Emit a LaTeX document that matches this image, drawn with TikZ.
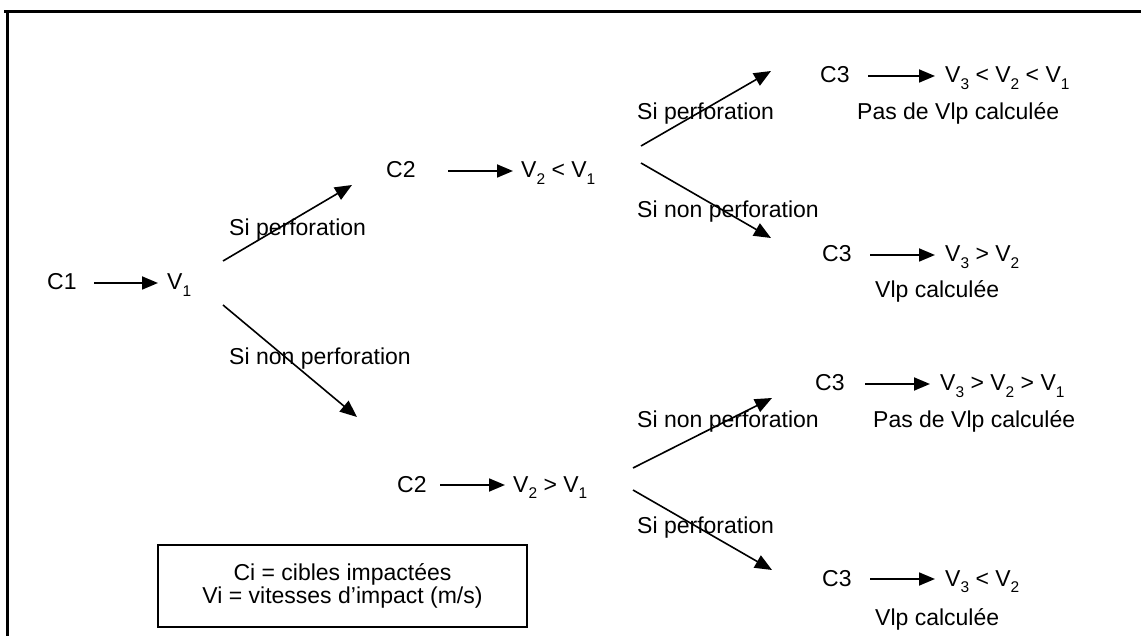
\documentclass[tikz,border=0pt]{standalone}
\usepackage{fontspec}
\setmainfont{Liberation Sans}
\usetikzlibrary{arrows.meta}
\newcommand{\sbs}[1]{\raisebox{-0.3em}{\fontsize{15.5}{15.5}\selectfont #1}}
\begin{document}
\begin{tikzpicture}[x=1pt,y=-1pt,
  lbl/.style={inner sep=0pt,anchor=base west,font=\fontsize{23}{26}\selectfont},
  harrow/.style={line width=1.8pt,-{Triangle[length=16pt,width=13pt]}},
  darrow/.style={line width=1.6pt,-{Triangle[length=17pt,width=14pt]}}]
\useasboundingbox (0,0) rectangle (1141,636);
% frame
\draw[line width=3pt] (4,12) -- (1141,12);
\draw[line width=3pt] (7,12) -- (7,636);

% level 0
\node[lbl] (c1) at (47,290) {C1};
\node[lbl] (v1) at (167,290) {V\sbs{1}};
\coordinate (a1s) at (94,283); \coordinate (a1e) at (158,283);
\draw[harrow] (a1s) -- (a1e);

% fork 1
\coordinate (f1a) at (223,261); \coordinate (f1b) at (352,185);
\coordinate (f1c) at (223,305); \coordinate (f1d) at (357,417);
\draw[darrow] (f1a) -- (f1b);
\draw[darrow] (f1c) -- (f1d);
\node[lbl] (sp1) at (229,236) {Si perforation};
\node[lbl] (snp1) at (229,365) {Si non perforation};

% upper C2
\node[lbl] (c2a) at (386,178) {C2};
\coordinate (a2s) at (448,171); \coordinate (a2e) at (513,171);
\draw[harrow] (a2s) -- (a2e);
\node[lbl] (v2a) at (521,178) {V\sbs{2} < V\sbs{1}};

% fork 2
\coordinate (f2a) at (641,146); \coordinate (f2b) at (771,71);
\coordinate (f2c) at (641,163); \coordinate (f2d) at (771,238);
\draw[darrow] (f2a) -- (f2b);
\draw[darrow] (f2c) -- (f2d);
\node[lbl] (sp2) at (637,120) {Si perforation};
\node[lbl] (snp2) at (637,218) {Si non perforation};

% C3 group 1
\node[lbl] (c3a) at (820,83) {C3};
\coordinate (a3s) at (868,76); \coordinate (a3e) at (935,76);
\draw[harrow] (a3s) -- (a3e);
\node[lbl] (v3a) at (945,83) {V\sbs{3} < V\sbs{2} < V\sbs{1}};
\node[lbl] (pa) at (857,120) {Pas de Vlp calculée};

% C3 group 2
\node[lbl] (c3b) at (822,262) {C3};
\coordinate (b3s) at (870,255); \coordinate (b3e) at (935,255);
\draw[harrow] (b3s) -- (b3e);
\node[lbl] (v3b) at (945,262) {V\sbs{3} > V\sbs{2}};
\node[lbl] (pb) at (875,298) {Vlp calculée};

% lower C2
\node[lbl] (c2b) at (397,492) {C2};
\coordinate (b2s) at (440,485); \coordinate (b2e) at (505,485);
\draw[harrow] (b2s) -- (b2e);
\node[lbl] (v2b) at (513,492) {V\sbs{2} > V\sbs{1}};

% fork 3
\coordinate (f3a) at (633,468); \coordinate (f3b) at (772,398);
\coordinate (f3c) at (633,490); \coordinate (f3d) at (772,570);
\draw[darrow] (f3a) -- (f3b);
\draw[darrow] (f3c) -- (f3d);
\node[lbl] (snp3) at (637,428) {Si non perforation};
\node[lbl] (sp3) at (637,533) {Si perforation};

% C3 group 3
\node[lbl] (c3c) at (815,391) {C3};
\coordinate (c3s) at (865,384); \coordinate (c3e) at (930,384);
\draw[harrow] (c3s) -- (c3e);
\node[lbl] (v3c) at (940,391) {V\sbs{3} > V\sbs{2} > V\sbs{1}};
\node[lbl] (pc) at (873,428) {Pas de Vlp calculée};

% C3 group 4
\node[lbl] (c3d) at (822,586) {C3};
\coordinate (d3s) at (870,579); \coordinate (d3e) at (935,579);
\draw[harrow] (d3s) -- (d3e);
\node[lbl] (v3d) at (945,586) {V\sbs{3} < V\sbs{2}};
\node[lbl] (pd) at (875,625) {Vlp calculée};

% legend
\node[draw,line width=1.8pt,minimum width=369pt,minimum height=82pt,inner sep=0pt] (leg) at (342.5,586) {};
\node[inner sep=0pt,align=center,font=\fontsize{23}{23}\selectfont] (legt) at (342.5,586)
  {Ci = cibles impactées\\Vi = vitesses d’impact (m/s)};
\end{tikzpicture}
\end{document}
